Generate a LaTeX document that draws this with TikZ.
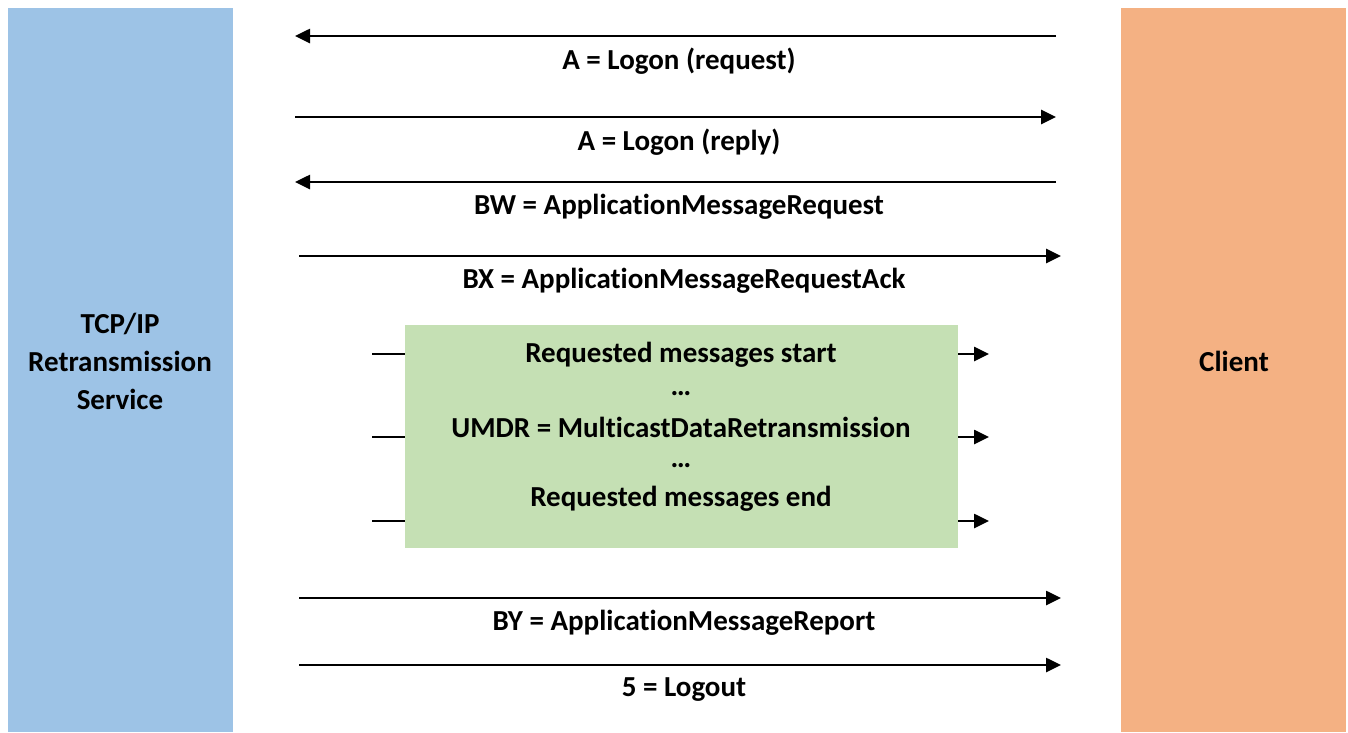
\documentclass[tikz,border=0pt]{standalone}
\usepackage{fontspec}
\setmainfont{Carlito}[Ligatures=NoCommon]
\usetikzlibrary{arrows.meta}
\definecolor{barblue}{HTML}{9DC3E6}
\definecolor{barorange}{HTML}{F4B183}
\definecolor{boxgreen}{HTML}{C5E0B4}
\tikzset{
  lbl/.style={font=\bfseries\fontsize{29}{35}\selectfont, anchor=center, inner sep=0pt},
  msg/.style={line width=2.6pt, -{Triangle[length=15pt,width=14pt]}},
  stub/.style={line width=2.6pt},
}
\begin{document}
\begin{tikzpicture}[x=1pt,y=-1pt]
\useasboundingbox (0,0) rectangle (1348,732);
\fill[white] (0,0) rectangle (1348,732);
% bars
\node[fill=barblue, minimum width=225pt, minimum height=724pt, inner sep=0pt, anchor=north west] (srv) at (8,8) {};
\node[fill=barorange, minimum width=225pt, minimum height=724pt, inner sep=0pt, anchor=north west] (cli) at (1121,8) {};
\node[lbl, align=center, font=\bfseries\fontsize{29}{38}\selectfont] (srvt) at (120,361) {TCP/IP\\Retransmission\\Service};
\node[lbl] (clit) at (1234,361) {Client};
% messages
\coordinate (a1s) at (1056,36); \coordinate (a1e) at (295,36);
\coordinate (a2s) at (295,117); \coordinate (a2e) at (1056,117);
\coordinate (a3s) at (1056,182); \coordinate (a3e) at (295,182);
\coordinate (a4s) at (299,256); \coordinate (a4e) at (1061,256);
\coordinate (a6s) at (299,598); \coordinate (a6e) at (1061,598);
\coordinate (a7s) at (299,665); \coordinate (a7e) at (1061,665);
\draw[msg] (a1s) -- (a1e);
\draw[msg] (a2s) -- (a2e);
\draw[msg] (a3s) -- (a3e);
\draw[msg] (a4s) -- (a4e);
\draw[msg] (a6s) -- (a6e);
\draw[msg] (a7s) -- (a7e);
\node[lbl] (l1) at (679,61) {A = Logon (request)};
\node[lbl] (l2) at (679,142) {A = Logon (reply)};
\node[lbl] (l3) at (679,207) {BW = ApplicationMessageRequest};
\node[lbl] (l4) at (684,281) {BX = ApplicationMessageRequestAck};
\node[lbl] (l6) at (684,623) {BY = ApplicationMessageReport};
\node[lbl] (l7) at (684,690) {5 = Logout};
% green box
\node[fill=boxgreen, minimum width=553pt, minimum height=223pt, inner sep=0pt, anchor=north west] (box) at (405,325) {};
\node[lbl] (g1) at (681,355) {Requested messages start};
\node[lbl] (g2) at (681,394) {…};
\node[lbl] (g3) at (681,427) {UMDR = MulticastDataRetransmission};
\node[lbl] (g4) at (681,466) {…};
\node[lbl] (g5) at (681,499) {Requested messages end};
\foreach \yy/\n in {354/1,437/2,521/3}{
  \coordinate (ls\n) at (372,\yy); \coordinate (le\n) at (405,\yy);
  \coordinate (rs\n) at (958,\yy); \coordinate (re\n) at (989,\yy);
  \draw[stub] (ls\n) -- (le\n);
  \draw[msg] (rs\n) -- (re\n);
}
\end{tikzpicture}
\end{document}
